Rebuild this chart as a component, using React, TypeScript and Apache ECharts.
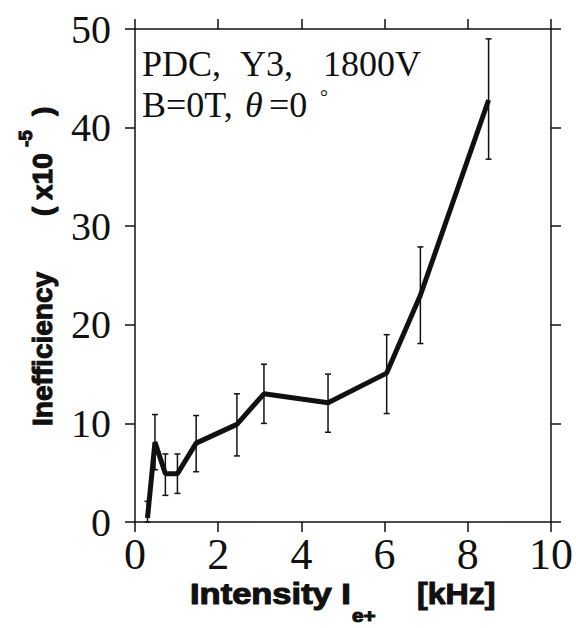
import React, { useEffect, useRef } from "react";
import * as echarts from "echarts";

const intensity = [0.3, 0.48, 0.73, 1.02, 1.47, 2.45, 3.1, 4.64, 6.05, 6.86, 8.5];
const inefficiency = [0.4, 8.1, 4.9, 4.9, 8.0, 9.9, 13.0, 12.1, 15.1, 23.0, 42.8];
const errLow = [0, 5.3, 2.7, 2.9, 5.1, 6.7, 10.0, 9.1, 11.0, 18.1, 36.8];
const errHigh = [2.1, 10.9, 6.9, 6.9, 10.8, 13.0, 16.0, 15.0, 19.0, 27.9, 49.0];
const xTicks = [0, 2, 4, 6, 8, 10];
const yTicks = [0, 10, 20, 30, 40, 50];

const SERIF = "'Liberation Serif', 'Times New Roman', serif";
const SANS = "'Liberation Sans', Arial, sans-serif";
const INK = "#111";

export default function App() {
  const ref = useRef<HTMLDivElement>(null);
  useEffect(() => {
    if (!ref.current) return;
    const chart = echarts.init(ref.current, null, { renderer: "svg" });
    const lineData = intensity.map((x, i) => [x, inefficiency[i]]);
    const errData = intensity.map((x, i) => [x, errLow[i], errHigh[i]]);
    const axisLine = { show: true, onZero: false, lineStyle: { color: INK, width: 1.5 } };
    const axisTick = { show: true, inside: false, length: 10, lineStyle: { color: INK, width: 1.5 } };
    const boldSans = (size: number) => ({
      fill: INK, fontFamily: SANS, fontWeight: "bold", fontSize: size,
      stroke: INK, lineWidth: 1.1, textAlign: "left", textVerticalAlign: "middle", lineHeight: size,
    });
    const serif = (size: number, italic = false) => ({
      fill: INK, fontFamily: SERIF, fontSize: size, fontStyle: italic ? "italic" : "normal",
      textAlign: "left", textVerticalAlign: "middle", lineHeight: size,
    });
    const option: any = {
      animation: false,
      backgroundColor: "#fff",
      grid: { left: 135, right: 23, top: 29, bottom: 106 },
      xAxis: [
        {
          type: "value", min: xTicks[0], max: xTicks[xTicks.length - 1], interval: 2,
          position: "bottom", axisLine, axisTick, splitLine: { show: false },
          axisLabel: { color: INK, fontFamily: SERIF, fontSize: 44, margin: 10 },
        },
        {
          type: "value", min: xTicks[0], max: xTicks[xTicks.length - 1], interval: 2,
          position: "top", axisLine, axisTick, splitLine: { show: false },
          axisLabel: { show: false },
        },
      ],
      yAxis: [
        {
          type: "value", min: yTicks[0], max: yTicks[yTicks.length - 1], interval: 10,
          position: "left", axisLine, axisTick, splitLine: { show: false },
          axisLabel: { color: INK, fontFamily: SERIF, fontSize: 40, margin: 24 },
        },
        {
          type: "value", min: yTicks[0], max: yTicks[yTicks.length - 1], interval: 10,
          position: "right", axisLine, axisTick, splitLine: { show: false },
          axisLabel: { show: false },
        },
      ],
      series: [
        {
          type: "custom",
          xAxisIndex: 0,
          yAxisIndex: 0,
          data: errData,
          encode: { x: 0, y: [1, 2] },
          renderItem: (params: any, api: any) => {
            const x = api.value(0);
            const lo = api.coord([x, api.value(1)]);
            const hi = api.coord([x, api.value(2)]);
            const c = 3;
            const st = { stroke: INK, lineWidth: 1.5 };
            return {
              type: "group",
              children: [
                { type: "line", shape: { x1: lo[0], y1: lo[1], x2: hi[0], y2: hi[1] }, style: st },
                { type: "line", shape: { x1: lo[0] - c, y1: lo[1], x2: lo[0] + c, y2: lo[1] }, style: st },
                { type: "line", shape: { x1: hi[0] - c, y1: hi[1], x2: hi[0] + c, y2: hi[1] }, style: st },
              ],
            };
          },
          z: 2,
        },
        {
          type: "line",
          xAxisIndex: 0,
          yAxisIndex: 0,
          data: lineData,
          symbol: "none",
          lineStyle: { color: INK, width: 5 },
          z: 3,
        },
      ],
      graphic: [
        { type: "text", x: 142, y: 64, style: { ...serif(36), text: "PDC," } },
        { type: "text", x: 240, y: 64, style: { ...serif(36), text: "Y3," } },
        { type: "text", x: 323, y: 64, style: { ...serif(36), text: "1800V" } },
        { type: "text", x: 142, y: 105, style: { ...serif(36), text: "B=0T," } },
        { type: "text", x: 245, y: 105, style: { ...serif(36, true), text: "θ" } },
        { type: "text", x: 269, y: 105, style: { ...serif(36), text: "=0" } },
        { type: "text", x: 320, y: 97, style: { ...serif(20), text: "°" } },
        {
          type: "group",
          x: 42,
          y: 426,
          rotation: Math.PI / 2,
          children: [
            { type: "text", x: 0, y: 0, style: { ...boldSans(28), text: "Inefficiency" } },
            { type: "text", x: 210, y: 0, style: { ...boldSans(28), text: "(" } },
            { type: "text", x: 226, y: 0, style: { ...boldSans(28), text: "x10" } },
            { type: "text", x: 279, y: -17, style: { ...boldSans(19), text: "-5" } },
            { type: "text", x: 310, y: 0, style: { ...boldSans(28), text: ")" } },
          ],
        },
        { type: "text", x: 190, y: 594, scaleX: 1.15, style: { ...boldSans(30), text: "Intensity I" } },
        { type: "text", x: 352, y: 616, scaleX: 1.15, style: { ...boldSans(18), text: "e+" } },
        { type: "text", x: 417, y: 594, scaleX: 1.07, style: { ...boldSans(30), text: "[kHz]" } },
      ],
    };
    chart.setOption(option);
    return () => chart.dispose();
  }, []);
  return (
    <div
      ref={ref}
      style={{ position: "absolute", left: 0, top: 0, width: 576, height: 628, background: "#fff" }}
    />
  );
}
